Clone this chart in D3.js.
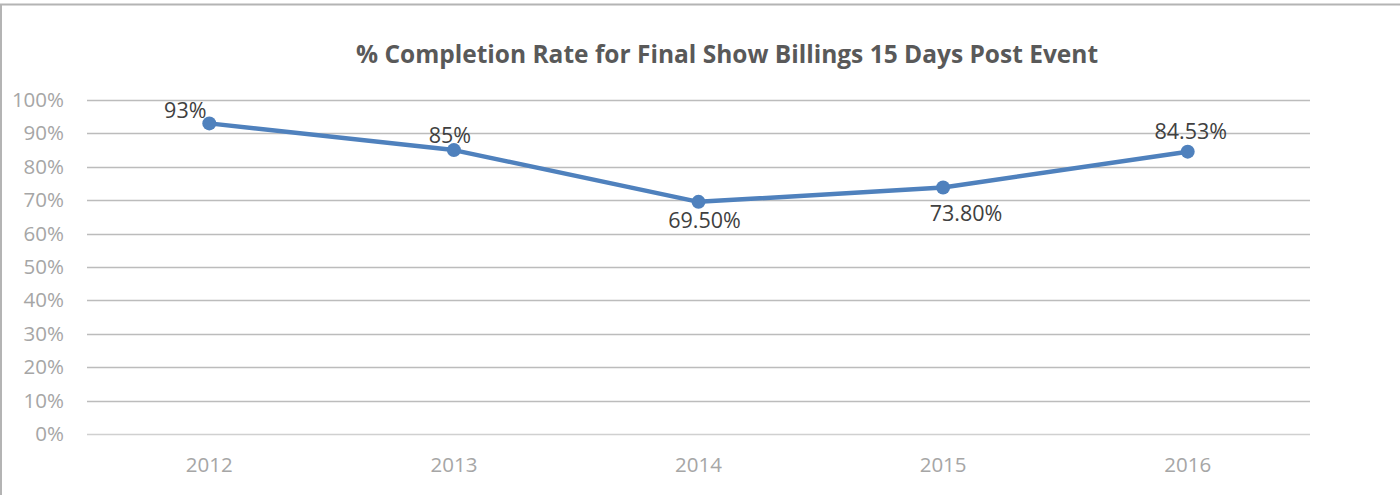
<!DOCTYPE html>
<html>
<head>
<meta charset="utf-8">
<script src="https://cdn.jsdelivr.net/npm/d3@7"></script>
<style>
  body { margin: 0; background: #fff; }
  #chart { width: 1400px; height: 495px; }
  text { font-family: "Open Sans", sans-serif; }
</style>
</head>
<body>
<div id="chart"></div>
<script>
'use strict';

// Chart data
var years = ['2012', '2013', '2014', '2015', '2016'];
var rates = [0.93, 0.85, 0.695, 0.738, 0.8453];
var rateLabels = ['93%', '85%', '69.50%', '73.80%', '84.53%'];
var yTicks = [0, 0.1, 0.2, 0.3, 0.4, 0.5, 0.6, 0.7, 0.8, 0.9, 1];

// where each data label sits relative to its point
var labelPlace = [
  {dx: -24, dy: -5},
  {dx: -4, dy: -7},
  {dx: 6, dy: 26},
  {dx: 23, dy: 33},
  {dx: 3, dy: -13}
];

var width = 1400, height = 495;
var margin = {top: 100, right: 90, bottom: 61, left: 87};

var svg = d3.select('#chart')
  .append('svg')
  .attr('width', width)
  .attr('height', height);

// outer frame
svg.append('rect')
  .attr('x', 1)
  .attr('y', 4.5)
  .attr('width', width + 10)
  .attr('height', height + 10)
  .attr('fill', 'none')
  .attr('stroke', '#b4b4b4')
  .attr('stroke-width', 2);

svg.append('text')
  .attr('x', 727)
  .attr('y', 63)
  .attr('text-anchor', 'middle')
  .attr('font-size', '24.5px')
  .attr('font-weight', 'bold')
  .attr('fill', '#595959')
  .text('% Completion Rate for Final Show Billings 15 Days Post Event');

var xScale = d3.scaleBand()
  .domain(years)
  .range([margin.left, width - margin.right]);

var yScale = d3.scaleLinear()
  .domain([0, 1])
  .range([height - margin.bottom, margin.top]);

// gridlines
svg.append('g')
  .selectAll('line')
  .data(yTicks)
  .enter()
  .append('line')
  .attr('x1', margin.left)
  .attr('x2', width - margin.right)
  .attr('y1', function(d) { return Math.round(yScale(d)) + 0.5; })
  .attr('y2', function(d) { return Math.round(yScale(d)) + 0.5; })
  .attr('stroke', function(d) { return d === 0 ? '#d0d0d0' : '#bcbcbc'; })
  .attr('stroke-width', 1.3);

// y axis
var yAxis = d3.axisLeft(yScale)
  .tickValues(yTicks)
  .tickFormat(d3.format('.0%'))
  .tickSize(0)
  .tickPadding(23);

svg.append('g')
  .attr('transform', 'translate(' + margin.left + ',0)')
  .call(yAxis)
  .call(function(g) { g.select('.domain').remove(); })
  .selectAll('text')
  .attr('font-size', '20.5px')
  .attr('font-family', '"Open Sans", sans-serif')
  .attr('fill', '#a6a6a6');

// x axis
var xAxis = d3.axisBottom(xScale)
  .tickSize(0)
  .tickPadding(23);

svg.append('g')
  .attr('transform', 'translate(0,' + (height - margin.bottom) + ')')
  .call(xAxis)
  .call(function(g) { g.select('.domain').remove(); })
  .selectAll('text')
  .attr('font-size', '20.5px')
  .attr('font-family', '"Open Sans", sans-serif')
  .attr('fill', '#a6a6a6');

var cx = function(d, i) { return xScale(years[i]) + xScale.bandwidth() / 2; };
var cy = function(d) { return yScale(d); };

var line = d3.line()
  .x(cx)
  .y(cy);

svg.append('path')
  .datum(rates)
  .attr('fill', 'none')
  .attr('stroke', '#4f81bd')
  .attr('stroke-width', 4.5)
  .attr('stroke-linejoin', 'round')
  .attr('d', line);

svg.append('g')
  .selectAll('circle')
  .data(rates)
  .enter()
  .append('circle')
  .attr('cx', cx)
  .attr('cy', cy)
  .attr('r', 7)
  .attr('fill', '#4f81bd');

svg.append('g')
  .selectAll('text')
  .data(rates)
  .enter()
  .append('text')
  .attr('x', function(d, i) { return cx(d, i) + labelPlace[i].dx; })
  .attr('y', function(d, i) { return cy(d) + labelPlace[i].dy; })
  .attr('text-anchor', 'middle')
  .attr('font-size', '21.5px')
  .attr('fill', '#404040')
  .text(function(d, i) { return rateLabels[i]; });
</script>
</body>
</html>
